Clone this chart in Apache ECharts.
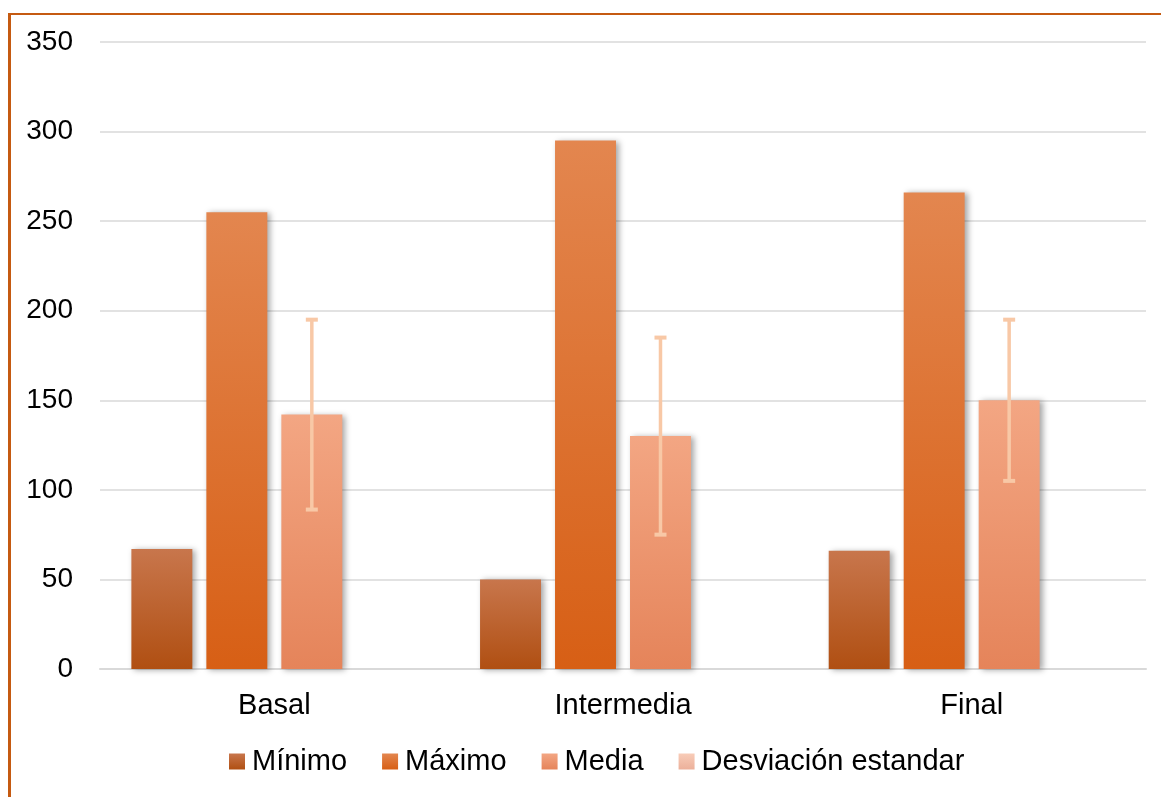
<!DOCTYPE html>
<html>
<head>
<meta charset="utf-8">
<script src="https://cdn.jsdelivr.net/npm/echarts@6/dist/echarts.min.js"></script>
<style>
  html, body { margin: 0; padding: 0; background: #fff; }
  #wrap { position: relative; width: 1161px; height: 797px; overflow: hidden; }
  #frame { position: absolute; left: 8px; top: 13px; right: -5px; bottom: -5px;
           border-left: 3px solid #c55a11; border-top: 2px solid #c55a11; }
  #chart { position: absolute; left: 0; top: 0; width: 1161px; height: 797px; }
</style>
</head>
<body>
<div id="wrap">
  <div id="frame"></div>
  <div id="chart"></div>
</div>
<script>
const categories = ['Basal', 'Intermedia', 'Final'];
const minimo = [67, 50, 66];
const maximo = [255, 295, 266];
const media = [142, 130, 150];
const desviacion = [53, 55, 45];
const yTicks = [0, 50, 100, 150, 200, 250, 300, 350];

const BAR_CAT_GAP = 0.18;
const BAR_GAP = 0.23;
const N_BARS = 4;

function grad(top, bottom) {
  return new echarts.graphic.LinearGradient(0, 0, 0, 1, [
    { offset: 0, color: top },
    { offset: 1, color: bottom }
  ]);
}

const shadow = {
  shadowBlur: 6,
  shadowColor: 'rgba(0,0,0,0.35)',
  shadowOffsetX: 3,
  shadowOffsetY: 1
};

const myChart = echarts.init(document.getElementById('chart'));

const option = {
  animation: false,
  textStyle: { fontFamily: 'Liberation Sans, Arial, sans-serif' },
  grid: { left: 100, right: 15, top: 42, bottom: 128, containLabel: false },
  legend: {
    data: ['Mínimo', 'Máximo', 'Media', 'Desviación estandar'],
    bottom: 16,
    left: 224,
    itemWidth: 16,
    itemHeight: 16,
    itemGap: 35,
    icon: 'rect',
    textStyle: { color: '#000', fontSize: 29, padding: [0, 0, 0, 2] }
  },
  xAxis: {
    type: 'category',
    data: categories,
    axisTick: { show: false },
    axisLine: { show: true, lineStyle: { color: '#d9d9d9', width: 2 } },
    axisLabel: { color: '#000', fontSize: 29, margin: 22 }
  },
  yAxis: {
    type: 'value',
    min: yTicks[0],
    max: yTicks[yTicks.length - 1],
    interval: 50,
    axisLine: { show: false },
    axisTick: { show: false },
    splitLine: { lineStyle: { color: '#d9d9d9', width: 1.5 } },
    axisLabel: { color: '#000', fontSize: 28, margin: 27 }
  },
  series: [
    {
      name: 'Mínimo',
      type: 'bar',
      data: minimo,
      barCategoryGap: (BAR_CAT_GAP * 100) + '%',
      barGap: (BAR_GAP * 100) + '%',
      itemStyle: Object.assign({ color: grad('#c8764c', '#b04f12') }, shadow)
    },
    {
      name: 'Máximo',
      type: 'bar',
      data: maximo,
      itemStyle: Object.assign({ color: grad('#e3864f', '#d75f15') }, shadow)
    },
    {
      name: 'Media',
      type: 'bar',
      data: media,
      itemStyle: Object.assign({ color: grad('#f3a683', '#e5845a') }, shadow)
    },
    {
      name: 'Desviación estandar',
      type: 'bar',
      data: ['-', '-', '-'],
      itemStyle: { color: grad('#f8ccb8', '#ecb09a') }
    },
    {
      name: 'err',
      type: 'custom',
      z: 5,
      data: media.map((m, i) => [i, m - desviacion[i], m + desviacion[i]]),
      renderItem: function (params, api) {
        const idx = api.value(0);
        const band = api.size([1, 0])[0];
        const usable = band * (1 - BAR_CAT_GAP);
        const bw = usable / (N_BARS + (N_BARS - 1) * BAR_GAP);
        const gap = bw * BAR_GAP;
        const total = N_BARS * bw + (N_BARS - 1) * gap;
        const offset = -total / 2 + 2 * (bw + gap) + bw / 2;
        const lo = api.coord([idx, api.value(1)]);
        const hi = api.coord([idx, api.value(2)]);
        const x = lo[0] + offset;
        const cap = 6;
        const style = { stroke: '#f8c8a6', lineWidth: 3.5 };
        const capStyle = { stroke: '#f8c8a6', lineWidth: 4 };
        return {
          type: 'group',
          children: [
            { type: 'line', shape: { x1: x, y1: hi[1], x2: x, y2: lo[1] }, style: style },
            { type: 'line', shape: { x1: x - cap, y1: hi[1], x2: x + cap, y2: hi[1] }, style: capStyle },
            { type: 'line', shape: { x1: x - cap, y1: lo[1], x2: x + cap, y2: lo[1] }, style: capStyle }
          ]
        };
      }
    }
  ]
};

myChart.setOption(option);
</script>
</body>
</html>
